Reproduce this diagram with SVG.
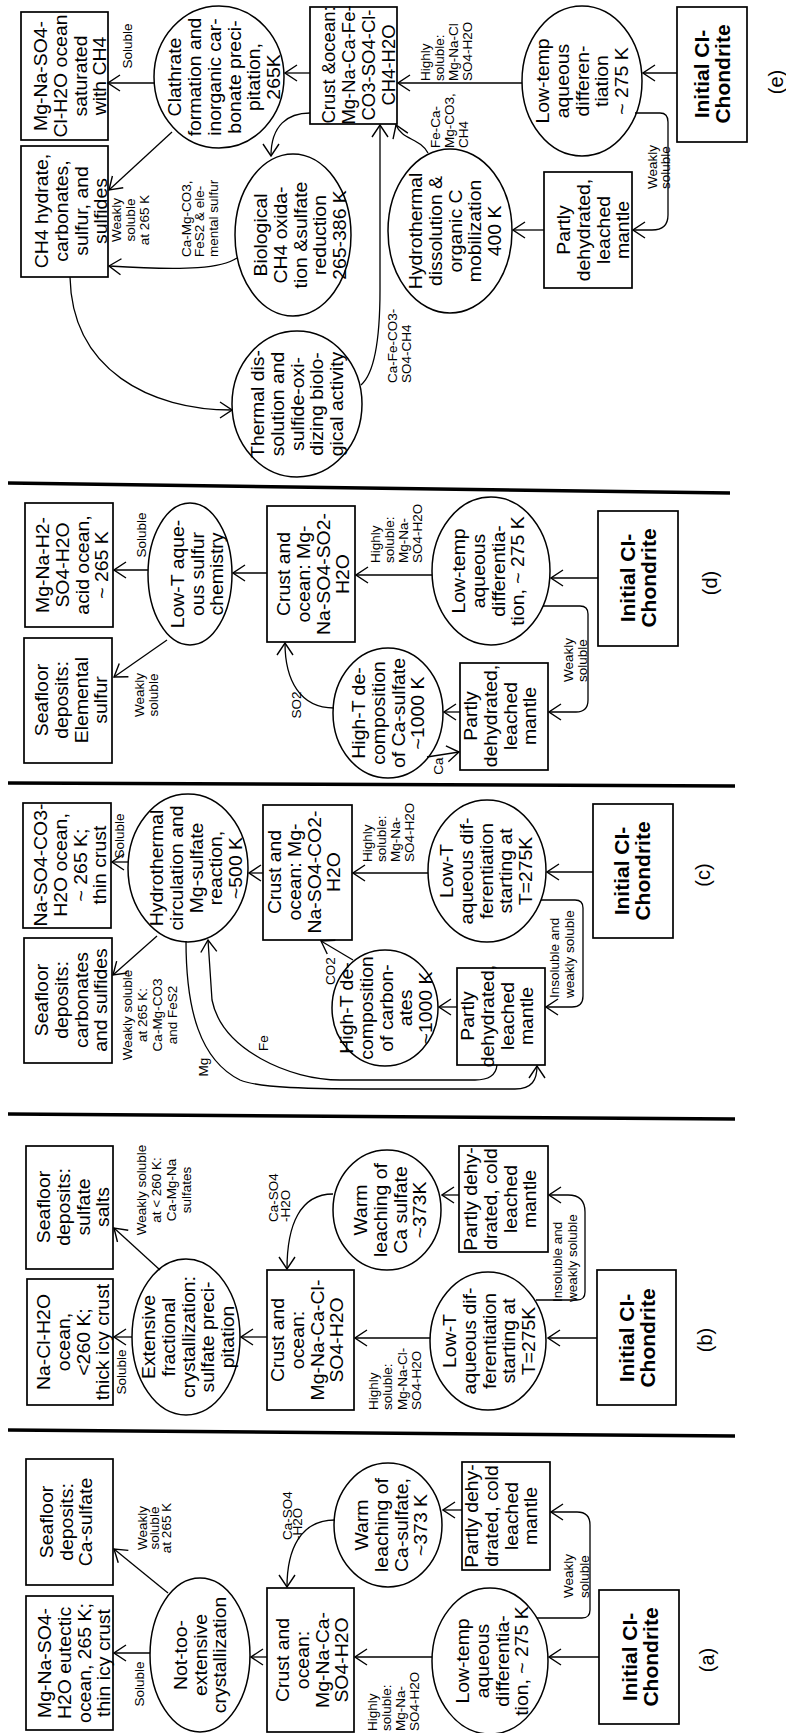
<svg xmlns="http://www.w3.org/2000/svg" width="786" height="1733" viewBox="0 0 786 1733">
<defs>
<marker id="ah" viewBox="0 0 14 18" refX="13" refY="9" markerWidth="14" markerHeight="18" markerUnits="userSpaceOnUse" orient="auto"><path d="M1,1 L13,9 L1,17" fill="none" stroke="#000" stroke-width="1.4"/></marker>
</defs>
<style>
.bx{fill:none;stroke:#000;stroke-width:1.7}
.el{fill:none;stroke:#000;stroke-width:1.5}
.c{fill:none;stroke:#000;stroke-width:1.3;marker-end:url(#ah)}
.sep{stroke:#000;stroke-width:3.5}
.t{font-family:"Liberation Sans",Arial,sans-serif;font-size:18.5px;fill:#000;text-anchor:middle}
.b{font-family:"Liberation Sans",Arial,sans-serif;font-size:20px;font-weight:bold;fill:#000;text-anchor:middle}
.l{font-family:"Liberation Sans",Arial,sans-serif;font-size:13.5px;fill:#000}
.m{text-anchor:middle}
.p{font-family:"Liberation Sans",Arial,sans-serif;font-size:20px;fill:#000;text-anchor:middle}
</style>
<rect width="786" height="1733" fill="#fff"/>

<g id="separators">
<line class="sep" x1="8" y1="483" x2="730" y2="493"/>
<line class="sep" x1="8" y1="783" x2="735" y2="786"/>
<line class="sep" x1="8" y1="1114" x2="735" y2="1119"/>
<line class="sep" x1="8" y1="1430" x2="735" y2="1436"/>
</g>

<!-- Panel (e) -->
<g id="e_ocean"><rect class="bx" x="21" y="12" width="87" height="128"/>
<text class="t" transform="translate(70,76) rotate(-90) scale(1.05,1)"><tspan x="0" y="-23.5">Mg-Na-SO4-</tspan><tspan x="0" y="-3.5">Cl-H2O ocean</tspan><tspan x="0" y="16.5">saturated</tspan><tspan x="0" y="36.5">with CH4</tspan></text></g>
<g id="e_hyd"><rect class="bx" x="21" y="146" width="87" height="131"/>
<text class="t" transform="translate(71,211) rotate(-90) scale(1.05,1)"><tspan x="0" y="-23.5">CH4 hydrate,</tspan><tspan x="0" y="-3.5">carbonates,</tspan><tspan x="0" y="16.5">sulfur, and</tspan><tspan x="0" y="36.5">sulfides</tspan></text></g>
<g id="e_clath"><ellipse class="el" cx="219" cy="77" rx="65" ry="71"/>
<text class="t" transform="translate(224,77) rotate(-90) scale(1.05,1)"><tspan x="0" y="-43.5">Clathrate</tspan><tspan x="0" y="-23.5">formation and</tspan><tspan x="0" y="-3.5">inorganic car-</tspan><tspan x="0" y="16.5">bonate preci-</tspan><tspan x="0" y="36.5">pitation,</tspan><tspan x="0" y="56.5">265K</tspan></text></g>
<g id="e_crust"><rect class="bx" x="310" y="7" width="87" height="117"/>
<text class="t" transform="translate(358,65) rotate(-90) scale(1.0,1)"><tspan x="0" y="-23.5">Crust &amp;ocean:</tspan><tspan x="0" y="-3.5">Mg-Na-Ca-Fe-</tspan><tspan x="0" y="16.5">CO3-SO4-Cl-</tspan><tspan x="0" y="36.5">CH4-H2O</tspan></text></g>
<g id="e_bio"><ellipse class="el" cx="293" cy="235" rx="58" ry="81"/>
<text class="t" transform="translate(300,235) rotate(-90) scale(1.05,1)"><tspan x="0" y="-33.5">Biological</tspan><tspan x="0" y="-13.5">CH4 oxida-</tspan><tspan x="0" y="6.5">tion &amp;sulfate</tspan><tspan x="0" y="26.5">reduction</tspan><tspan x="0" y="46.5">265-386 K</tspan></text></g>
<g id="e_therm"><ellipse class="el" cx="297" cy="404" rx="65" ry="73"/>
<text class="t" transform="translate(297,404) rotate(-90) scale(1.05,1)"><tspan x="0" y="-33.5">Thermal dis-</tspan><tspan x="0" y="-13.5">solution and</tspan><tspan x="0" y="6.5">sulfide-oxi-</tspan><tspan x="0" y="26.5">dizing biolo-</tspan><tspan x="0" y="46.5">gical activity</tspan></text></g>
<g id="e_hydro"><ellipse class="el" cx="450" cy="231" rx="62" ry="82"/>
<text class="t" transform="translate(455,231) rotate(-90) scale(1.05,1)"><tspan x="0" y="-33.5">Hydrothermal</tspan><tspan x="0" y="-13.5">dissolution &amp;</tspan><tspan x="0" y="6.5">organic C</tspan><tspan x="0" y="26.5">mobilization</tspan><tspan x="0" y="46.5">400 K</tspan></text></g>
<g id="e_low"><ellipse class="el" cx="582" cy="81" rx="60" ry="75"/>
<text class="t" transform="translate(582,81) rotate(-90) scale(1.05,1)"><tspan x="0" y="-33.5">Low-temp</tspan><tspan x="0" y="-13.5">aqueous</tspan><tspan x="0" y="6.5">differen-</tspan><tspan x="0" y="26.5">tiation</tspan><tspan x="0" y="46.5">~ 275 K</tspan></text></g>
<g id="e_init"><rect class="bx" x="677" y="7" width="70" height="135"/>
<text class="b" transform="translate(712,74) rotate(-90) scale(1.05,1)"><tspan x="0" y="-3.5">Initial CI-</tspan><tspan x="0" y="17.5">Chondrite</tspan></text></g>
<g id="e_partly"><rect class="bx" x="544" y="172" width="88" height="116"/>
<text class="t" transform="translate(593,230) rotate(-90) scale(1.05,1)"><tspan x="0" y="-23.5">Partly</tspan><tspan x="0" y="-3.5">dehydrated,</tspan><tspan x="0" y="16.5">leached</tspan><tspan x="0" y="36.5">mantle</tspan></text></g>
<g id="e_label"><text class="p" transform="translate(776,82) rotate(-90)" y="7">(e)</text></g>

<!-- Panel (d) -->
<g id="d_acid"><rect class="bx" x="25" y="503" width="88" height="124"/>
<text class="t" transform="translate(72,565) rotate(-90) scale(1.05,1)"><tspan x="0" y="-23.5">Mg-Na-H2-</tspan><tspan x="0" y="-3.5">SO4-H2O</tspan><tspan x="0" y="16.5">acid ocean,</tspan><tspan x="0" y="36.5">~ 265 K</tspan></text></g>
<g id="d_elem"><rect class="bx" x="24" y="638" width="88" height="125"/>
<text class="t" transform="translate(71,700) rotate(-90) scale(1.05,1)"><tspan x="0" y="-23.5">Seafloor</tspan><tspan x="0" y="-3.5">deposits:</tspan><tspan x="0" y="16.5">Elemental</tspan><tspan x="0" y="36.5">sulfur</tspan></text></g>
<g id="d_lowt"><ellipse class="el" cx="190" cy="574" rx="42" ry="71"/>
<text class="t" transform="translate(197,574) rotate(-90) scale(1.05,1)"><tspan x="0" y="-13.5">Low-T aque-</tspan><tspan x="0" y="6.5">ous sulfur</tspan><tspan x="0" y="26.5">chemistry</tspan></text></g>
<g id="d_crust"><rect class="bx" x="267" y="506" width="88" height="136"/>
<text class="t" transform="translate(313,574) rotate(-90) scale(1.05,1)"><tspan x="0" y="-23.5">Crust and</tspan><tspan x="0" y="-3.5">ocean: Mg-</tspan><tspan x="0" y="16.5">Na-SO4-SO2-</tspan><tspan x="0" y="36.5">H2O</tspan></text></g>
<g id="d_low"><ellipse class="el" cx="491" cy="571" rx="59" ry="74"/>
<text class="t" transform="translate(488,571) rotate(-90) scale(1.05,1)"><tspan x="0" y="-23.5">Low-temp</tspan><tspan x="0" y="-3.5">aqueous</tspan><tspan x="0" y="16.5">differentia-</tspan><tspan x="0" y="36.5">tion, ~ 275 K</tspan></text></g>
<g id="d_init"><rect class="bx" x="598" y="511" width="80" height="135"/>
<text class="b" transform="translate(638,578) rotate(-90) scale(1.05,1)"><tspan x="0" y="-3.5">Initial CI-</tspan><tspan x="0" y="17.5">Chondrite</tspan></text></g>
<g id="d_hight"><ellipse class="el" cx="388" cy="713" rx="55" ry="65"/>
<text class="t" transform="translate(388,713) rotate(-90) scale(1.05,1)"><tspan x="0" y="-23.5">High-T de-</tspan><tspan x="0" y="-3.5">composition</tspan><tspan x="0" y="16.5">of Ca-sulfate</tspan><tspan x="0" y="36.5">~1000 K</tspan></text></g>
<g id="d_partly"><rect class="bx" x="460" y="663" width="88" height="107"/>
<text class="t" transform="translate(500,716) rotate(-90) scale(1.05,1)"><tspan x="0" y="-23.5">Partly</tspan><tspan x="0" y="-3.5">dehydrated,</tspan><tspan x="0" y="16.5">leached</tspan><tspan x="0" y="36.5">mantle</tspan></text></g>
<g id="d_label"><text class="p" transform="translate(710,583) rotate(-90)" y="7">(d)</text></g>

<!-- Panel (c) -->
<g id="c_ocean"><rect class="bx" x="23" y="803" width="88" height="125"/>
<text class="t" transform="translate(70,865) rotate(-90) scale(1.05,1)"><tspan x="0" y="-23.5">Na-SO4-CO3-</tspan><tspan x="0" y="-3.5">H2O ocean,</tspan><tspan x="0" y="16.5">~ 265 K;</tspan><tspan x="0" y="36.5">thin crust</tspan></text></g>
<g id="c_hydro"><ellipse class="el" cx="188" cy="868" rx="60" ry="74"/>
<text class="t" transform="translate(196,868) rotate(-90) scale(1.05,1)"><tspan x="0" y="-33.5">Hydrothermal</tspan><tspan x="0" y="-13.5">circulation and</tspan><tspan x="0" y="6.5">Mg-sulfate</tspan><tspan x="0" y="26.5">reaction,</tspan><tspan x="0" y="46.5">~500 K</tspan></text></g>
<g id="c_crust"><rect class="bx" x="263" y="805" width="89" height="135"/>
<text class="t" transform="translate(304,872) rotate(-90) scale(1.05,1)"><tspan x="0" y="-23.5">Crust and</tspan><tspan x="0" y="-3.5">ocean: Mg-</tspan><tspan x="0" y="16.5">Na-SO4-CO2-</tspan><tspan x="0" y="36.5">H2O</tspan></text></g>
<g id="c_low"><ellipse class="el" cx="487" cy="871" rx="59" ry="71"/>
<text class="t" transform="translate(486,871) rotate(-90) scale(1.05,1)"><tspan x="0" y="-33.5">Low-T</tspan><tspan x="0" y="-13.5">aqueous dif-</tspan><tspan x="0" y="6.5">ferentiation</tspan><tspan x="0" y="26.5">starting at</tspan><tspan x="0" y="46.5">T=275K</tspan></text></g>
<g id="c_init"><rect class="bx" x="593" y="804" width="80" height="134"/>
<text class="b" transform="translate(632,871) rotate(-90) scale(1.05,1)"><tspan x="0" y="-3.5">Initial CI-</tspan><tspan x="0" y="17.5">Chondrite</tspan></text></g>
<g id="c_sea"><rect class="bx" x="24" y="938" width="88" height="125"/>
<text class="t" transform="translate(71,1000) rotate(-90) scale(1.05,1)"><tspan x="0" y="-23.5">Seafloor</tspan><tspan x="0" y="-3.5">deposits:</tspan><tspan x="0" y="16.5">carbonates</tspan><tspan x="0" y="36.5">and sulfides</tspan></text></g>
<g id="c_hight"><ellipse class="el" cx="385" cy="1008" rx="53" ry="58"/>
<text class="t" transform="translate(386,1008) rotate(-90) scale(1.05,1)"><tspan x="0" y="-33.5">High-T de-</tspan><tspan x="0" y="-13.5">composition</tspan><tspan x="0" y="6.5">of carbon-</tspan><tspan x="0" y="26.5">ates</tspan><tspan x="0" y="46.5">~1000 K</tspan></text></g>
<g id="c_partly"><rect class="bx" x="457" y="968" width="88" height="97"/>
<text class="t" transform="translate(497,1016) rotate(-90) scale(1.05,1)"><tspan x="0" y="-23.5">Partly</tspan><tspan x="0" y="-3.5">dehydrated,</tspan><tspan x="0" y="16.5">leached</tspan><tspan x="0" y="36.5">mantle</tspan></text></g>
<g id="c_label"><text class="p" transform="translate(703,875) rotate(-90)" y="7">(c)</text></g>

<!-- Panel (b) -->
<g id="b_sea"><rect class="bx" x="26" y="1146" width="87" height="123"/>
<text class="t" transform="translate(73,1207) rotate(-90) scale(1.05,1)"><tspan x="0" y="-23.5">Seafloor</tspan><tspan x="0" y="-3.5">deposits:</tspan><tspan x="0" y="16.5">sulfate</tspan><tspan x="0" y="36.5">salts</tspan></text></g>
<g id="b_ocean"><rect class="bx" x="27" y="1279" width="86" height="126"/>
<text class="t" transform="translate(73,1342) rotate(-90) scale(1.05,1)"><tspan x="0" y="-23.5">Na-Cl-H2O</tspan><tspan x="0" y="-3.5">ocean,</tspan><tspan x="0" y="16.5">&lt;260 K;</tspan><tspan x="0" y="36.5">thick icy crust</tspan></text></g>
<g id="b_ext"><ellipse class="el" cx="186" cy="1337" rx="54" ry="78"/>
<text class="t" transform="translate(188,1337) rotate(-90) scale(1.05,1)"><tspan x="0" y="-33.5">Extensive</tspan><tspan x="0" y="-13.5">fractional</tspan><tspan x="0" y="6.5">crystallization:</tspan><tspan x="0" y="26.5">sulfate preci-</tspan><tspan x="0" y="46.5">pitation</tspan></text></g>
<g id="b_crust"><rect class="bx" x="267" y="1270" width="87" height="140"/>
<text class="t" transform="translate(307,1340) rotate(-90) scale(1.05,1)"><tspan x="0" y="-23.5">Crust and</tspan><tspan x="0" y="-3.5">ocean:</tspan><tspan x="0" y="16.5">Mg-Na-Ca-Cl-</tspan><tspan x="0" y="36.5">SO4-H2O</tspan></text></g>
<g id="b_warm"><ellipse class="el" cx="387" cy="1210" rx="54" ry="60"/>
<text class="t" transform="translate(390,1210) rotate(-90) scale(1.05,1)"><tspan x="0" y="-23.5">Warm</tspan><tspan x="0" y="-3.5">leaching of</tspan><tspan x="0" y="16.5">Ca sulfate</tspan><tspan x="0" y="36.5">~373K</tspan></text></g>
<g id="b_low"><ellipse class="el" cx="488" cy="1341" rx="58" ry="69"/>
<text class="t" transform="translate(489,1341) rotate(-90) scale(1.05,1)"><tspan x="0" y="-33.5">Low-T</tspan><tspan x="0" y="-13.5">aqueous dif-</tspan><tspan x="0" y="6.5">ferentiation</tspan><tspan x="0" y="26.5">starting at</tspan><tspan x="0" y="46.5">T=275K</tspan></text></g>
<g id="b_init"><rect class="bx" x="597" y="1270" width="79" height="135"/>
<text class="b" transform="translate(637,1338) rotate(-90) scale(1.05,1)"><tspan x="0" y="-3.5">Initial CI-</tspan><tspan x="0" y="17.5">Chondrite</tspan></text></g>
<g id="b_partly"><rect class="bx" x="459" y="1146" width="89" height="106"/>
<text class="t" transform="translate(500,1199) rotate(-90) scale(1.05,1)"><tspan x="0" y="-23.5">Partly dehy-</tspan><tspan x="0" y="-3.5">drated, cold</tspan><tspan x="0" y="16.5">leached</tspan><tspan x="0" y="36.5">mantle</tspan></text></g>
<g id="b_label"><text class="p" transform="translate(705,1340) rotate(-90)" y="7">(b)</text></g>

<!-- Panel (a) -->
<g id="a_sea"><rect class="bx" x="26" y="1459" width="87" height="126"/>
<text class="t" transform="translate(66,1522) rotate(-90) scale(1.05,1)"><tspan x="0" y="-13.5">Seafloor</tspan><tspan x="0" y="6.5">deposits:</tspan><tspan x="0" y="26.5">Ca-sulfate</tspan></text></g>
<g id="a_ocean"><rect class="bx" x="26" y="1596" width="87" height="134"/>
<text class="t" transform="translate(74,1663) rotate(-90) scale(1.05,1)"><tspan x="0" y="-23.5">Mg-Na-SO4-</tspan><tspan x="0" y="-3.5">H2O eutectic</tspan><tspan x="0" y="16.5">ocean, 265 K;</tspan><tspan x="0" y="36.5">thin icy crust</tspan></text></g>
<g id="a_not"><ellipse class="el" cx="200" cy="1655" rx="50" ry="77"/>
<text class="t" transform="translate(200,1655) rotate(-90) scale(1.05,1)"><tspan x="0" y="-13.5">Not-too-</tspan><tspan x="0" y="6.5">extensive</tspan><tspan x="0" y="26.5">crystallization</tspan></text></g>
<g id="a_crust"><rect class="bx" x="267" y="1588" width="87" height="144"/>
<text class="t" transform="translate(312,1660) rotate(-90) scale(1.05,1)"><tspan x="0" y="-23.5">Crust and</tspan><tspan x="0" y="-3.5">ocean:</tspan><tspan x="0" y="16.5">Mg-Na-Ca-</tspan><tspan x="0" y="36.5">SO4-H2O</tspan></text></g>
<g id="a_warm"><ellipse class="el" cx="388" cy="1525" rx="54" ry="62"/>
<text class="t" transform="translate(391,1525) rotate(-90) scale(1.05,1)"><tspan x="0" y="-23.5">Warm</tspan><tspan x="0" y="-3.5">leaching of</tspan><tspan x="0" y="16.5">Ca-sulfate,</tspan><tspan x="0" y="36.5">~373 K</tspan></text></g>
<g id="a_low"><ellipse class="el" cx="490" cy="1661" rx="58" ry="73"/>
<text class="t" transform="translate(492,1661) rotate(-90) scale(1.05,1)"><tspan x="0" y="-23.5">Low-temp</tspan><tspan x="0" y="-3.5">aqueous</tspan><tspan x="0" y="16.5">differentia-</tspan><tspan x="0" y="36.5">tion, ~ 275 K</tspan></text></g>
<g id="a_init"><rect class="bx" x="599" y="1590" width="80" height="134"/>
<text class="b" transform="translate(640,1657) rotate(-90) scale(1.05,1)"><tspan x="0" y="-3.5">Initial CI-</tspan><tspan x="0" y="17.5">Chondrite</tspan></text></g>
<g id="a_partly"><rect class="bx" x="462" y="1462" width="88" height="108"/>
<text class="t" transform="translate(501,1516) rotate(-90) scale(1.05,1)"><tspan x="0" y="-23.5">Partly dehy-</tspan><tspan x="0" y="-3.5">drated, cold</tspan><tspan x="0" y="16.5">leached</tspan><tspan x="0" y="36.5">mantle</tspan></text></g>
<g id="a_label"><text class="p" transform="translate(707,1660) rotate(-90)" y="7">(a)</text></g>

<g id="connectors">
<!-- (e) -->
<path class="c" d="M310,73 L285,73"/>
<path class="c" d="M154,83 L108,83"/>
<path class="c" d="M172,132 L109,190"/>
<path class="c" d="M237,258 C222,268 190,271 109,266"/>
<path class="c" d="M310,113 C288,113 271,125 271,156"/>
<path class="c" d="M70,277 C72,370 150,410 232,410"/>
<path class="c" d="M361,385 C376,372 380,330 380,290 L380,125"/>
<path class="c" d="M522,83 L398,83"/>
<path class="c" d="M428,153 C420,138 402,140 396,125"/>
<path class="c" d="M677,73 L643,73"/>
<path class="c" d="M635,113 L660,113 Q668,113 668,122 L668,215 Q668,230 652,230 L633,230"/>
<path class="c" d="M544,230 L513,230"/>
<text class="l m" transform="translate(127,46) rotate(-90)" y="4.7">Soluble</text>
<text class="l m" transform="translate(130,220) rotate(-90)"><tspan x="0" y="-9.3">Weakly</tspan><tspan x="0" y="4.7">soluble</tspan><tspan x="0" y="18.7">at 265 K</tspan></text>
<text class="l" transform="translate(186,257) rotate(-90)"><tspan x="0" y="4.7">Ca-Mg-CO3,</tspan><tspan x="0" y="18.2">FeS2 &amp; ele-</tspan><tspan x="0" y="31.7">mental sulfur</tspan></text>
<text class="l" transform="translate(392,383) rotate(-90)"><tspan x="0" y="4.7">Ca-Fe-CO3-</tspan><tspan x="0" y="18.7">SO4-CH4</tspan></text>
<text class="l" transform="translate(425,81) rotate(-90)"><tspan x="0" y="4.7">Highly</tspan><tspan x="0" y="18.7">soluble:</tspan><tspan x="0" y="32.7">Mg-Na-Cl</tspan><tspan x="0" y="46.7">SO4-H2O</tspan></text>
<text class="l" transform="translate(435,148) rotate(-90)"><tspan x="0" y="4.7">Fe-Ca-</tspan><tspan x="0" y="18.7">Mg-CO3,</tspan><tspan x="0" y="32.7">CH4</tspan></text>
<text class="l" transform="translate(652,189) rotate(-90)"><tspan x="0" y="4.7">Weakly</tspan><tspan x="0" y="17.7">soluble</tspan></text>
<!-- (d) -->
<path class="c" d="M148,570 L114,570"/>
<path class="c" d="M267,573 L233,573"/>
<path class="c" d="M167,640 L114,677"/>
<path class="c" d="M334,708 C300,708 285,680 285,643"/>
<path class="c" d="M432,575 L356,575"/>
<path class="c" d="M598,578 L551,578"/>
<path class="c" d="M543,606 L580,606 Q588,606 588,614 L588,700 Q588,712 576,712 L549,712"/>
<path class="c" d="M460,712 L444,712"/>
<path class="c" d="M427,757 L459,752"/>
<text class="l m" transform="translate(141,535) rotate(-90)" y="4.7">Soluble</text>
<text class="l m" transform="translate(146,695) rotate(-90)"><tspan x="0" y="-2.3">Weakly</tspan><tspan x="0" y="11.7">soluble</tspan></text>
<text class="l m" transform="translate(296,705) rotate(-90)" y="4.7">SO2</text>
<text class="l" transform="translate(375,563) rotate(-90)"><tspan x="0" y="4.7">Highly</tspan><tspan x="0" y="18.7">soluble:</tspan><tspan x="0" y="32.7">Mg-Na-</tspan><tspan x="0" y="46.7">SO4-H2O</tspan></text>
<text class="l" transform="translate(568,682) rotate(-90)"><tspan x="0" y="4.7">Weakly</tspan><tspan x="0" y="18.7">soluble</tspan></text>
<text class="l m" transform="translate(438,766) rotate(-90)" y="4.7">Ca</text>
<!-- (c) -->
<path class="c" d="M128,862 L112,862"/>
<path class="c" d="M263,873 L249,873"/>
<path class="c" d="M157,936 L113,975"/>
<path class="c" d="M428,873 L353,873"/>
<path class="c" d="M593,872 L547,872"/>
<path class="c" d="M541,900 L575,900 Q583,900 583,908 L583,996 Q583,1007 572,1007 L546,1007"/>
<path class="c" d="M457,1007 L439,1007"/>
<path class="c" d="M353,960 L321,941"/>
<path class="c" d="M497,1065 C496,1076 488,1080 475,1080 L340,1080 C290,1080 222,1050 212,1000 L208,940"/>
<path class="c" d="M186,941 C186,1010 200,1060 240,1080 C260,1088 300,1089 400,1089 L515,1089 C532,1089 537,1080 537,1066"/>
<text class="l m" transform="translate(119,836) rotate(-90)" y="4.7">Soluble</text>
<text class="l m" transform="translate(150,1015) rotate(-90)"><tspan x="0" y="-17.8">Weakly soluble</tspan><tspan x="0" y="-2.8">at 265 K:</tspan><tspan x="0" y="12.2">Ca-Mg-CO3</tspan><tspan x="0" y="27.2">and FeS2</tspan></text>
<text class="l" transform="translate(367,862) rotate(-90)"><tspan x="0" y="4.7">Highly</tspan><tspan x="0" y="18.7">soluble:</tspan><tspan x="0" y="32.7">Mg-Na-</tspan><tspan x="0" y="46.7">SO4-H2O</tspan></text>
<text class="l" transform="translate(554,998) rotate(-90)"><tspan x="0" y="4.7">Insoluble and</tspan><tspan x="0" y="19.7">weakly soluble</tspan></text>
<text class="l m" transform="translate(330,971) rotate(-90)" y="4.7">CO2</text>
<text class="l m" transform="translate(203,1067) rotate(-90)" y="4.7">Mg</text>
<text class="l m" transform="translate(263,1043) rotate(-90)" y="4.7">Fe</text>
<!-- (b) -->
<path class="c" d="M132,1337 L114,1337"/>
<path class="c" d="M160,1270 L114,1228"/>
<path class="c" d="M267,1337 L241,1337"/>
<path class="c" d="M333,1194 C300,1194 287,1225 287,1269"/>
<path class="c" d="M430,1338 L355,1338"/>
<path class="c" d="M597,1338 L548,1338"/>
<path class="c" d="M536,1300 L577,1300 Q585,1300 585,1292 L585,1212 Q585,1195 568,1195 L549,1195"/>
<path class="c" d="M459,1195 L442,1195"/>
<text class="l m" transform="translate(121,1372) rotate(-90)" y="4.7">Soluble</text>
<text class="l m" transform="translate(164,1190) rotate(-90)"><tspan x="0" y="-17.8">Weakly soluble</tspan><tspan x="0" y="-2.8">at &lt; 260 K:</tspan><tspan x="0" y="12.2">Ca-Mg-Na</tspan><tspan x="0" y="27.2">sulfates</tspan></text>
<text class="l" transform="translate(273,1222) rotate(-90)"><tspan x="0" y="4.7">Ca-SO4</tspan><tspan x="0" y="16.7">-H2O</tspan></text>
<text class="l" transform="translate(373,1410) rotate(-90)"><tspan x="0" y="4.7">Highly</tspan><tspan x="0" y="19.2">soluble:</tspan><tspan x="0" y="33.7">Mg-Na-Cl-</tspan><tspan x="0" y="48.2">SO4-H2O</tspan></text>
<text class="l" transform="translate(557,1302) rotate(-90)"><tspan x="0" y="4.7">Insoluble and</tspan><tspan x="0" y="19.7">weakly soluble</tspan></text>
<!-- (a) -->
<path class="c" d="M150,1653 L114,1653"/>
<path class="c" d="M168,1593 L114,1549"/>
<path class="c" d="M267,1657 L251,1657"/>
<path class="c" d="M335,1520 C300,1520 287,1550 287,1587"/>
<path class="c" d="M432,1657 L355,1657"/>
<path class="c" d="M599,1657 L549,1657"/>
<path class="c" d="M537,1618 L582,1618 Q590,1618 590,1610 L590,1525 Q590,1512 577,1512 L551,1512"/>
<path class="c" d="M462,1510 L443,1510"/>
<text class="l m" transform="translate(139,1684) rotate(-90)" y="4.7">Soluble</text>
<text class="l m" transform="translate(154,1528) rotate(-90)"><tspan x="0" y="-7.3">Weakly</tspan><tspan x="0" y="4.7">soluble</tspan><tspan x="0" y="16.7">at 265 K</tspan></text>
<text class="l" transform="translate(287,1540) rotate(-90)"><tspan x="0" y="4.7">Ca-SO4</tspan><tspan x="0" y="15.2">-H2O</tspan></text>
<text class="l" transform="translate(372,1731) rotate(-90)"><tspan x="0" y="4.7">Highly</tspan><tspan x="0" y="18.7">soluble:</tspan><tspan x="0" y="32.7">Mg-Na-</tspan><tspan x="0" y="46.7">SO4-H2O</tspan></text>
<text class="l" transform="translate(568,1598) rotate(-90)"><tspan x="0" y="4.7">Weakly</tspan><tspan x="0" y="20.7">soluble</tspan></text>
</g>
</svg>
